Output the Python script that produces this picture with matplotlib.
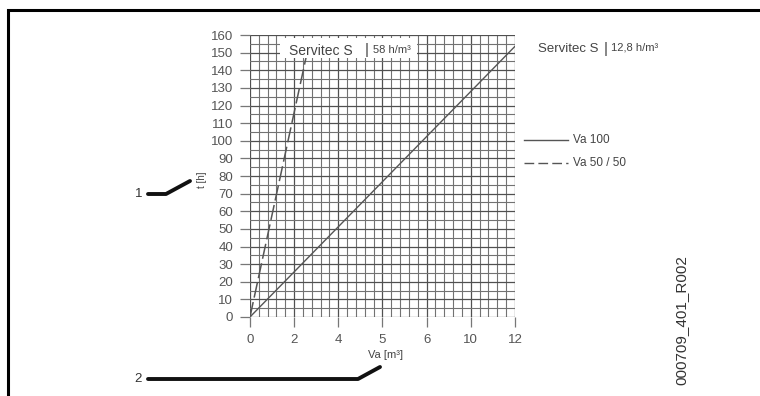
import matplotlib
matplotlib.use("Agg")
import matplotlib.pyplot as plt
from matplotlib.ticker import MultipleLocator
from matplotlib.lines import Line2D
from matplotlib.patches import Rectangle

plt.rcParams['font.family'] = ['Liberation Sans', 'DejaVu Sans']

# donnees
va_100 = [0, 12]
t_100 = [0, 153.6]          # 12,8 h/m3
va_5050 = [0, 2.6]
t_5050 = [0, 150.8]         # 58 h/m3
x_ticks = [0, 2, 4, 6, 8, 10, 12]
x_labels = ["0", "2", "4", "5", "6", "10", "12"]
y_ticks = list(range(0, 161, 10))

gris = "#555555"
texte = "#444444"

fig = plt.figure(figsize=(7.6, 3.96), dpi=100)
ax = fig.add_axes([0.3289, 0.1995, 0.3487, 0.712])

ax.plot(va_100, t_100, color=gris, lw=1.0, zorder=3)
ax.plot(va_5050, t_5050, color=gris, lw=1.1, ls=(0, (10, 3)), zorder=3)

ax.set_xlim(0, 12)
ax.set_ylim(0, 160)
ax.set_xticks(x_ticks)
ax.set_xticklabels(x_labels)
ax.set_yticks(y_ticks)
ax.xaxis.set_minor_locator(MultipleLocator(0.4))
ax.yaxis.set_minor_locator(MultipleLocator(5))
ax.grid(which="major", color="#505050", lw=0.9)
ax.grid(which="minor", color="#727272", lw=0.8)
ax.tick_params(which="major", length=7, color="#777777", labelcolor=gris,
               labelsize=9.5, pad=5, width=0.9)
ax.tick_params(which="minor", length=0)
for s in ax.spines.values():
    s.set_visible(False)

# cartouche blanc "Servitec S | 58 h/m3"
ax.add_patch(Rectangle((0.113, 0.918), 0.517, 0.071, transform=ax.transAxes,
                       facecolor="white", edgecolor="none", zorder=4))
ax.text(4.66, 151, "Servitec S", ha="right", va="center", fontsize=10,
        color=texte, zorder=5)
ax.text(5.3, 151.5, "|", ha="center", va="center", fontsize=11,
        color=texte, zorder=5)
ax.text(5.57, 151.5, "58 h/m³", ha="left", va="center", fontsize=8,
        color=texte, zorder=5)

fig.text(385 / 760, 1 - 355 / 396, "Va [m³]", ha="center", va="center",
         fontsize=8, color=texte)
fig.text(202 / 760, 1 - 180 / 396, "t [h]", ha="center", va="center",
         fontsize=7, color=texte, rotation=90)

# partie droite
fig.text(538 / 760, 1 - 49 / 396, "Servitec S", ha="left", va="center",
         fontsize=9.5, color=texte)
fig.text(604 / 760, 1 - 49 / 396, "|", ha="left", va="center",
         fontsize=11, color=texte)
fig.text(611 / 760, 1 - 48 / 396, "12,8 h/m³", ha="left", va="center",
         fontsize=8, color=texte)

fig.add_artist(Line2D([524 / 760, 568 / 760], [1 - 140 / 396] * 2,
                      transform=fig.transFigure, color=gris, lw=1.0))
fig.add_artist(Line2D([524 / 760, 568 / 760], [1 - 163 / 396] * 2,
                      transform=fig.transFigure, color=gris, lw=1.0,
                      ls=(0, (7, 3))))
fig.text(573 / 760, 1 - 140 / 396, "Va 100", ha="left", va="center",
         fontsize=8.5, color=texte)
fig.text(573 / 760, 1 - 163 / 396, "Va 50 / 50", ha="left", va="center",
         fontsize=8.5, color=texte)

# reperes 1 et 2
fig.text(139 / 760, 1 - 194 / 396, "1", ha="center", va="center",
         fontsize=9.5, color="#333333")
fig.add_artist(Line2D([148 / 760, 166 / 760, 190 / 760],
                      [1 - 194 / 396, 1 - 194 / 396, 1 - 181 / 396],
                      transform=fig.transFigure, color="#111111", lw=2.8,
                      solid_capstyle="round"))
fig.text(138 / 760, 1 - 379 / 396, "2", ha="center", va="center",
         fontsize=9.5, color="#333333")
fig.add_artist(Line2D([148 / 760, 358 / 760, 380 / 760],
                      [1 - 379 / 396, 1 - 379 / 396, 1 - 367 / 396],
                      transform=fig.transFigure, color="#111111", lw=2.8,
                      solid_capstyle="round"))

fig.text(681 / 760, 1 - 320 / 396, "000709_401_R002", ha="center",
         va="center", rotation=90, fontsize=11, color="#333333")

# cadre
fig.add_artist(Rectangle((8 / 760, -0.05), 1.0, 1 - 10 / 396 + 0.05,
                         transform=fig.transFigure, fill=False,
                         edgecolor="black", lw=2.2))

fig.savefig("out.png", dpi=100)
